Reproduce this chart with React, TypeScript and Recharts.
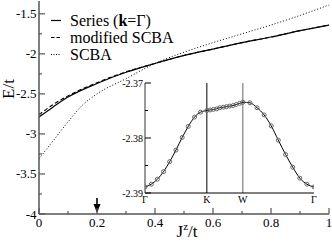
import { LineChart, Line, XAxis, YAxis, ReferenceLine, ReferenceDot, Legend, Label } from 'recharts';

const serif = "'Liberation Serif', 'DejaVu Serif', serif";
const axisColor = '#555';
const txt = { fontFamily: serif };

// main panel: ground state energy vs J^z/t
const seriesJ = [0, 0.05, 0.1, 0.2, 0.3, 0.4, 0.5, 0.6, 0.7, 0.8, 0.9, 1.0];
const seriesE = [-2.79, -2.66, -2.54, -2.37, -2.23, -2.12, -2.02, -1.94, -1.86, -1.79, -1.71, -1.64];
const modifiedE = [-2.76, -2.63, -2.525, -2.36, -2.225, -2.12, -2.02, -1.94, -1.86, -1.79, -1.71, -1.64];
const scbaJ = [0, 0.05, 0.1, 0.15, 0.2, 0.3, 0.4, 0.5, 0.6, 0.7, 0.8, 0.9, 1.0];
const scbaE = [-3.31, -3.08, -2.85, -2.64, -2.5, -2.31, -2.12, -1.98, -1.86, -1.75, -1.64, -1.52, -1.39];

const xTicks = [0, 0.1, 0.2, 0.3, 0.4, 0.5, 0.6, 0.7, 0.8, 0.9, 1];
const yTicks = [-4, -3.75, -3.5, -3.25, -3, -2.75, -2.5, -2.25, -2, -1.75, -1.5];
const arrowJ = 0.2;

// inset: dispersion along Γ-K-W-Γ
const kPath = [0, 0.037, 0.073, 0.11, 0.146, 0.183, 0.22, 0.256, 0.293, 0.329, 0.366,
  0.385, 0.405, 0.424, 0.443, 0.463, 0.482, 0.501, 0.521, 0.54, 0.56, 0.579,
  0.621, 0.663, 0.705, 0.747, 0.789, 0.832, 0.874, 0.916, 0.958, 1.0];
const bandE = [-2.3889, -2.3884, -2.3875, -2.3861, -2.3843, -2.3822, -2.3799, -2.3779, -2.3762, -2.3753, -2.375,
  -2.3749, -2.3748, -2.3747, -2.3745, -2.3744, -2.3743, -2.3742, -2.3741, -2.3739, -2.3737, -2.3735,
  -2.3736, -2.3745, -2.3758, -2.3778, -2.3804, -2.383, -2.3853, -2.3873, -2.3884, -2.3889];
const symPos = [0, 0.366, 0.579, 1];
const symLabels = ['Γ', 'K', 'W', 'Γ'];
const insetYTicks = [-2.39, -2.385, -2.38, -2.375, -2.37];

const seriesData = seriesJ.map((j, i) => ({ j, e: seriesE[i] }));
const modifiedData = seriesJ.map((j, i) => ({ j, e: modifiedE[i] }));
const scbaData = scbaJ.map((j, i) => ({ j, e: scbaE[i] }));
const insetData = kPath.map((k, i) => ({ k, e: bandE[i] }));

const legendRows = [
  { name: 'Series (k=Γ)', dash: undefined as string | undefined },
  { name: 'modified SCBA', dash: '3.5 2' },
  { name: 'SCBA', dash: '1 1.5' },
];

type TickProps = { x?: number; y?: number; payload?: { value: number } };

const near = (v: number, m: number) => Math.abs(v * m - Math.round(v * m)) < 1e-6;

function BottomTick({ x = 0, y = 0, payload }: TickProps) {
  const v = payload?.value ?? 0;
  const major = near(v, 5);
  return (
    <g>
      <line x1={x} y1={y} x2={x} y2={y - (major ? 6 : 3)} stroke={axisColor} strokeWidth={1.2} />
      {major && (
        <text x={x} y={y + 13} textAnchor="middle" fontSize={13} style={txt} fill="#000">{String(v)}</text>
      )}
    </g>
  );
}

function TopTick({ x = 0, y = 0, payload }: TickProps) {
  const major = near(payload?.value ?? 0, 5);
  return <line x1={x} y1={y} x2={x} y2={y + (major ? 6 : 3)} stroke={axisColor} strokeWidth={1.2} />;
}

function LeftTick({ x = 0, y = 0, payload }: TickProps) {
  const v = payload?.value ?? 0;
  const major = near(v, 2);
  return (
    <g>
      <line x1={x} y1={y} x2={x + (major ? 6 : 3)} y2={y} stroke={axisColor} strokeWidth={1.2} />
      {major && (
        <text x={x - 2.5} y={y} textAnchor="end" dominantBaseline="central" fontSize={13} style={txt} fill="#000">{String(v)}</text>
      )}
    </g>
  );
}

function RightTick({ x = 0, y = 0, payload }: TickProps) {
  const major = near(payload?.value ?? 0, 2);
  return <line x1={x} y1={y} x2={x - (major ? 6 : 3)} y2={y} stroke={axisColor} strokeWidth={1.2} />;
}

function InsetLeftTick({ x = 0, y = 0, payload }: TickProps) {
  const v = payload?.value ?? 0;
  const major = near(v, 100);
  return (
    <g>
      <line x1={x} y1={y} x2={x + (major ? 6 : 3)} y2={y} stroke="#000" />
      {major && (
        <text x={x - 2} y={y} textAnchor="end" dominantBaseline="central" fontSize={10} style={txt} fill="#000">{v.toFixed(2)}</text>
      )}
    </g>
  );
}

function InsetRightTick({ x = 0, y = 0, payload }: TickProps) {
  const major = near(payload?.value ?? 0, 100);
  return <line x1={x} y1={y} x2={x - (major ? 6 : 3)} y2={y} stroke="#000" />;
}

function InsetBottomTick({ x = 0, y = 0, payload }: TickProps) {
  const idx = symPos.indexOf(payload?.value ?? -1);
  return (
    <text x={x} y={y + 10} textAnchor="middle" fontSize={10} style={txt} fill="#000">
      {idx >= 0 ? symLabels[idx] : ''}
    </text>
  );
}

function legendText(name: string) {
  return name.split(/(\bk\b)/).map((part, i) =>
    part === 'k' ? <b key={i}>k</b> : <span key={i}>{part}</span>
  );
}

function LegendBox() {
  return (
    <div>
      {legendRows.map(row => (
        <div key={row.name} style={{ display: 'flex', alignItems: 'center', height: 17 }}>
          <svg width={12} height={17}>
            <line x1={1} x2={11} y1={8.5} y2={8.5} stroke="#000" strokeWidth={1.2} strokeDasharray={row.dash} />
          </svg>
          <span style={{ marginLeft: 8, fontSize: 16, lineHeight: '16px', fontFamily: serif, color: '#000', whiteSpace: 'nowrap' }}>
            {legendText(row.name)}
          </span>
        </div>
      ))}
    </div>
  );
}

function Arrow(props: { cx?: number; cy?: number }) {
  const cx = props.cx ?? 0;
  const cy = props.cy ?? 0;
  return (
    <g>
      <line x1={cx} y1={cy} x2={cx} y2={cy + 8} stroke="#000" strokeWidth={1.6} />
      <path d={`M${cx - 3.5},${cy + 6} L${cx + 3.5},${cy + 6} L${cx},${cy + 15} Z`} fill="#000" />
    </g>
  );
}

export default function App() {
  return (
    <div style={{ position: 'absolute', left: 0, top: 0, width: 332, height: 247, background: '#fff' }}>
      <LineChart width={332} height={247} margin={{ top: 1, right: 3, left: 0, bottom: 0 }}>
        <XAxis dataKey="j" type="number" domain={[0, 1]} ticks={xTicks} interval={0} allowDataOverflow
          height={33} tickSize={0} tickMargin={0} tick={BottomTick} tickLine={false}
          axisLine={{ stroke: axisColor, strokeWidth: 1.5 }}>
          <Label content={({ viewBox }: any) => (
            <text x={viewBox.x + 148} y={viewBox.y + 23} textAnchor="middle" fontSize={17} style={txt} fill="#000">
              J<tspan dy={-7} fontSize={11}>z</tspan><tspan dy={7}>/t</tspan>
            </text>
          )} />
        </XAxis>
        <XAxis xAxisId="top" orientation="top" type="number" domain={[0, 1]} ticks={xTicks} interval={0} allowDataOverflow
          height={0} tickSize={0} tickMargin={0} tick={TopTick} tickLine={false}
          axisLine={{ stroke: axisColor, strokeWidth: 1.5 }} />
        <YAxis type="number" domain={[-4, -1.34]} ticks={yTicks} interval={0} allowDataOverflow
          width={39} tickSize={0} tickMargin={0} tick={LeftTick} tickLine={false}
          axisLine={{ stroke: axisColor, strokeWidth: 1.5 }}>
          <Label content={({ viewBox }: any) => {
            const cx = viewBox.x + 8;
            const cy = viewBox.y + 88;
            return (
              <text x={cx} y={cy} transform={`rotate(-90, ${cx}, ${cy})`} textAnchor="middle" dominantBaseline="central"
                fontSize={17} style={txt} fill="#000">E/t</text>
            );
          }} />
        </YAxis>
        <YAxis yAxisId="right" orientation="right" type="number" domain={[-4, -1.34]} ticks={yTicks} interval={0} allowDataOverflow
          width={0} tickSize={0} tickMargin={0} tick={RightTick} tickLine={false}
          axisLine={{ stroke: axisColor, strokeWidth: 1.5 }} />
        <Legend layout="vertical" align="center" verticalAlign="middle" content={() => <LegendBox />}
          wrapperStyle={{ left: 50, top: 12, width: 'auto', height: 'auto' }} />
        <Line data={scbaData} dataKey="e" name="SCBA" type="monotone" stroke="#000" strokeWidth={1}
          strokeDasharray="1 2" dot={false} isAnimationActive={false} />
        <Line data={modifiedData} dataKey="e" name="modified SCBA" type="monotone" stroke="#000" strokeWidth={1.1}
          strokeDasharray="4 2.5" dot={false} isAnimationActive={false} />
        <Line data={seriesData} dataKey="e" name="Series (k=Γ)" type="monotone" stroke="#000" strokeWidth={1.2}
          dot={false} isAnimationActive={false} />
        <ReferenceDot x={arrowJ} y={-3.8} r={0} shape={(p: any) => <Arrow cx={p.cx} cy={p.cy} />} />
      </LineChart>

      <div style={{ position: 'absolute', left: 100, top: 78 }}>
        <LineChart width={220} height={130} data={insetData} margin={{ top: 5, right: 6, left: 0, bottom: 0 }}>
          <XAxis dataKey="k" type="number" domain={[0, 1]} ticks={symPos} interval={0} allowDataOverflow
            height={15} tickSize={0} tickMargin={0} tick={InsetBottomTick} tickLine={false}
            axisLine={{ stroke: '#000' }} />
          <XAxis xAxisId="top" orientation="top" dataKey="k" type="number" domain={[0, 1]} allowDataOverflow
            height={0} tick={false} tickLine={false} axisLine={{ stroke: '#000' }} />
          <YAxis type="number" domain={[-2.39, -2.37]} ticks={insetYTicks} interval={0} allowDataOverflow
            width={45} tickSize={0} tickMargin={0} tick={InsetLeftTick} tickLine={false}
            axisLine={{ stroke: '#777', strokeWidth: 1.5 }} />
          <YAxis yAxisId="right" orientation="right" type="number" domain={[-2.39, -2.37]} ticks={insetYTicks} interval={0} allowDataOverflow
            width={0} tickSize={0} tickMargin={0} tick={InsetRightTick} tickLine={false}
            axisLine={{ stroke: '#000' }} />
          <ReferenceLine x={symPos[1]} stroke="#000" />
          <ReferenceLine x={symPos[2]} stroke="#666" />
          <Line dataKey="e" type="monotone" stroke="#000" strokeWidth={1}
            dot={{ r: 2, stroke: '#666', strokeWidth: 1, fill: 'none' }} isAnimationActive={false} />
        </LineChart>
      </div>
    </div>
  );
}
